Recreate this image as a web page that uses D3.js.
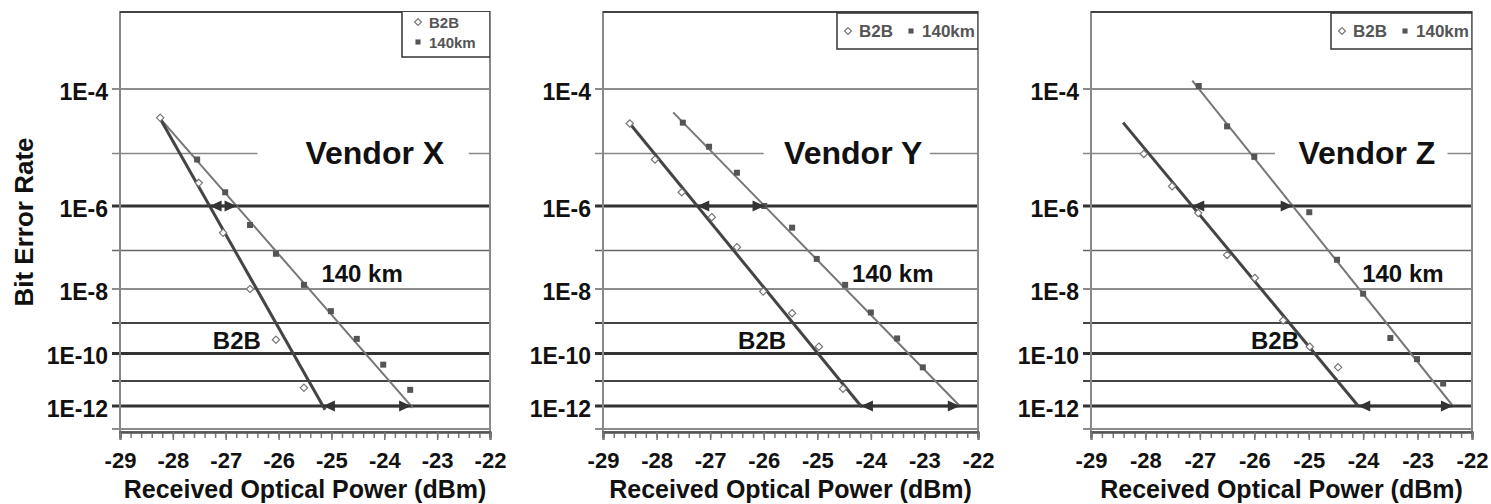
<!DOCTYPE html>
<html>
<head>
<meta charset="utf-8">
<script src="https://cdn.jsdelivr.net/npm/d3@7"></script>
<style>
    body { margin: 0; background: #fff; }
    svg text { font-family: "Liberation Sans", Arial, sans-serif; font-weight: bold; fill: #111; }
</style>
</head>
<body>
<div id="chart"></div>
<script>

// ---- values ----
const vendors = ["Vendor X", "Vendor Y", "Vendor Z"];
const xTicks = [-29, -28, -27, -26, -25, -24, -23, -22];
const berGrid = [1e-4, 1e-5, 1e-6, 1e-7, 1e-8, 1e-9, 1e-10, 1e-11, 1e-12, 1e-13];
const berLabels = ["1E-4", "1E-6", "1E-8", "1E-10", "1E-12"];
const berLabelValues = [1e-4, 1e-6, 1e-8, 1e-10, 1e-12];
const penaltyLevels = [1e-6, 1e-12];
const seriesNames = ["B2B", "140km"];

// Vendor X
const vxB2BPower = [-28.24, -27.51, -27.05, -26.54, -26.05, -25.52];
const vxB2BBer = [3.8e-5, 2.9e-6, 2.6e-7, 1.0e-8, 2.9e-10, 5.4e-12];
const vx140Power = [-27.54, -27.01, -26.54, -26.05, -25.52, -25.01, -24.52, -24.02, -23.51];
const vx140Ber = [7.8e-6, 1.9e-6, 3.9e-7, 8.3e-8, 1.3e-8, 2.3e-9, 3.1e-10, 4.0e-11, 4.5e-12];
const vxB2BFitPower = [-28.25, -25.12];
const vxB2BFitBer = [3.8e-5, 6.9e-13];
const vx140FitPower = [-28.25, -23.46];
const vx140FitBer = [3.8e-5, 8.3e-13];

// Vendor Y
const vyB2BPower = [-28.50, -28.03, -27.53, -26.97, -26.50, -26.01, -25.47, -24.97, -24.52];
const vyB2BBer = [3.1e-5, 7.8e-6, 1.9e-6, 5.8e-7, 1.2e-7, 8.5e-9, 2.0e-9, 1.7e-10, 5.0e-12];
const vy140Power = [-27.51, -27.02, -26.50, -25.99, -25.47, -25.01, -24.48, -24.00, -23.51, -23.03];
const vy140Ber = [3.2e-5, 1.3e-5, 4.5e-6, 1.0e-6, 3.4e-7, 6.2e-8, 1.3e-8, 2.1e-9, 3.2e-10, 3.2e-11];
const vyB2BFitPower = [-28.50, -24.17];
const vyB2BFitBer = [3.1e-5, 9.1e-13];
const vy140FitPower = [-27.69, -22.34];
const vy140FitBer = [4.6e-5, 1.0e-12];

// Vendor Z
const vzB2BPower = [-28.03, -27.51, -27.03, -26.50, -25.99, -25.47, -24.98, -24.46];
const vzB2BBer = [9.8e-6, 2.5e-6, 7.1e-7, 7.8e-8, 2.0e-8, 1.2e-9, 1.7e-10, 3.2e-11];
const vz140Power = [-27.02, -26.50, -26.00, -24.99, -24.48, -24.00, -23.50, -23.01, -22.53];
const vz140Ber = [1.1e-4, 2.8e-5, 8.7e-6, 7.4e-7, 5.9e-8, 7.4e-9, 3.3e-10, 6.3e-11, 7.9e-12];
const vzB2BFitPower = [-28.41, -24.09];
const vzB2BFitBer = [3.2e-5, 1.0e-12];
const vz140FitPower = [-27.14, -22.35];
const vz140FitBer = [1.3e-4, 1.0e-12];

// ---- layout ----
const panelLeft = [120, 603, 1091];
const panelRight = [490, 978, 1472];
const legendStacked = [true, false, false];
// annotation anchors in data units (dBm, BER)
const vendorLabelPower = [-24.18, -24.33, -23.93];
const vendorBgFrom = [-26.4, -26.0, -25.62];
const vendorBgTo = [-22.4, -22.9, -22.45];
const kmLabelPower = [-24.42, -23.59, -23.27];
const b2bLabelPower = [-26.79, -26.03, -25.62];

function zip(p, b) {
    return p.map((d, i) => ({power: d, ber: b[i]}));
}

const panels = [
    {b2b: zip(vxB2BPower, vxB2BBer), km: zip(vx140Power, vx140Ber),
        b2bFit: zip(vxB2BFitPower, vxB2BFitBer), kmFit: zip(vx140FitPower, vx140FitBer)},
    {b2b: zip(vyB2BPower, vyB2BBer), km: zip(vy140Power, vy140Ber),
        b2bFit: zip(vyB2BFitPower, vyB2BFitBer), kmFit: zip(vy140FitPower, vy140FitBer)},
    {b2b: zip(vzB2BPower, vzB2BBer), km: zip(vz140Power, vz140Ber),
        b2bFit: zip(vzB2BFitPower, vzB2BFitBer), kmFit: zip(vz140FitPower, vz140FitBer)}
];

// BER axis is linear in log10(-log10(BER))
const qt = b => Math.log10(-Math.log10(b));

const svg = d3.select("#chart").append("svg")
    .attr("width", 1491)
    .attr("height", 504);

// arrow head for the power penalty markers
svg.append("defs").append("marker")
    .attr("id", "arrow")
    .attr("viewBox", "0 -6 12 12")
    .attr("refX", 12)
    .attr("refY", 0)
    .attr("markerUnits", "userSpaceOnUse")
    .attr("markerWidth", 13)
    .attr("markerHeight", 12)
    .attr("orient", "auto-start-reverse")
    .append("path")
    .attr("d", "M0,-5.5L12,0L0,5.5Z")
    .attr("fill", "#333");

class BerVis {

    constructor(svg, idx) {
        this.svg = svg;
        this.idx = idx;
        this.data = panels[idx];
        this.initVis();
    }

    initVis() {
        let vis = this;
        let i = vis.idx;

        vis.top = 12;
        vis.bottom = 432;
        vis.left = panelLeft[i];
        vis.right = panelRight[i];

        vis.x = d3.scaleLinear().domain([-29, -22]).range([vis.left, vis.right]);
        vis.y = d3.scaleLinear().domain([qt(1e-4), qt(1e-12)]).range([89, 406]);
        vis.yb = b => vis.y(qt(b));

        vis.g = vis.svg.append("g").attr("class", "panel");

        vis.g.append("clipPath").attr("id", "clip" + i)
            .append("rect")
            .attr("x", vis.left).attr("y", vis.top)
            .attr("width", vis.right - vis.left).attr("height", vis.bottom - vis.top);

        // gridlines
        vis.g.selectAll(".grid")
            .data(berGrid)
            .enter().append("line")
            .attr("class", "grid")
            .attr("x1", vis.left - 8)
            .attr("x2", vis.right)
            .attr("y1", d => vis.yb(d))
            .attr("y2", d => vis.yb(d))
            .attr("stroke", d => vis.gridStyle(d).c)
            .attr("stroke-width", d => vis.gridStyle(d).w);

        // y labels
        vis.g.selectAll(".ylab")
            .data(berLabelValues)
            .enter().append("text")
            .attr("class", "ylab")
            .attr("x", vis.left - 12)
            .attr("y", d => vis.yb(d) + 3)
            .attr("text-anchor", "end")
            .attr("dominant-baseline", "central")
            .style("font-size", "23px")
            .text((d, k) => berLabels[k]);

        // plot frame
        vis.g.append("rect")
            .attr("x", vis.left).attr("y", vis.top)
            .attr("width", vis.right - vis.left).attr("height", vis.bottom - vis.top)
            .attr("fill", "none")
            .attr("stroke", "#888")
            .attr("stroke-width", 2);
        vis.g.append("line")
            .attr("x1", vis.left).attr("x2", vis.right)
            .attr("y1", vis.top).attr("y2", vis.top)
            .attr("stroke", "#444").attr("stroke-width", 2);

        // x axis
        vis.xAxisMinor = d3.axisBottom(vis.x)
            .tickValues(d3.range(-29, -21.99, 0.2))
            .tickSize(6)
            .tickFormat("");
        vis.xAxis = d3.axisBottom(vis.x)
            .tickValues(xTicks)
            .tickSize(8)
            .tickPadding(12)
            .tickFormat(d => String(d));

        let ax1 = vis.g.append("g")
            .attr("transform", `translate(0,${vis.bottom})`)
            .call(vis.xAxisMinor);
        let ax2 = vis.g.append("g")
            .attr("transform", `translate(0,${vis.bottom})`)
            .call(vis.xAxis);
        [ax1, ax2].forEach(a => {
            a.select(".domain").attr("stroke", "#555").attr("stroke-width", 2);
            a.selectAll(".tick line").attr("stroke", "#777").attr("stroke-width", 1.5);
        });
        ax2.selectAll(".tick text")
            .attr("fill", "#111")
            .style("font-size", "22px")
            .style("font-family", "'Liberation Sans', Arial, sans-serif")
            .style("font-weight", "bold");

        vis.g.append("text")
            .attr("x", (vis.left + vis.right) / 2)
            .attr("y", 498)
            .attr("text-anchor", "middle")
            .style("font-size", "25px")
            .text("Received Optical Power (dBm)");

        vis.drawData();
        vis.drawLabels();
        vis.drawLegend();
    }

    gridStyle(b) {
        let e = Math.round(-Math.log10(b));
        if ([6, 10, 12].includes(e)) return {w: 3, c: "#333"};
        if ([9, 11].includes(e)) return {w: 2, c: "#444"};
        if (e === 5) return {w: 1.5, c: "#888"};
        return {w: 1.5, c: "#666"};
    }

    drawData() {
        let vis = this;
        let line = d3.line().x(d => vis.x(d.power)).y(d => vis.yb(d.ber));

        let layer = vis.g.append("g").attr("clip-path", `url(#clip${vis.idx})`);

        layer.append("path")
            .datum(vis.data.kmFit)
            .attr("d", line)
            .attr("fill", "none")
            .attr("stroke", "#777")
            .attr("stroke-width", 2);

        layer.append("path")
            .datum(vis.data.b2bFit)
            .attr("d", line)
            .attr("fill", "none")
            .attr("stroke", "#444")
            .attr("stroke-width", 3);

        layer.selectAll(".b2b")
            .data(vis.data.b2b)
            .enter().append("path")
            .attr("class", "b2b")
            .attr("transform", d => `translate(${vis.x(d.power)},${vis.yb(d.ber)})`)
            .attr("d", d3.symbol(d3.symbolDiamond2, 34))
            .attr("fill", "#fff")
            .attr("stroke", "#777")
            .attr("stroke-width", 1.2);

        layer.selectAll(".km")
            .data(vis.data.km)
            .enter().append("path")
            .attr("class", "km")
            .attr("transform", d => `translate(${vis.x(d.power)},${vis.yb(d.ber)})`)
            .attr("d", d3.symbol(d3.symbolSquare, 36))
            .attr("fill", "#555");

        // power penalty arrows between fits
        let xAt = (fit, b) => {
            let t0 = qt(fit[0].ber), t1 = qt(fit[1].ber);
            return fit[0].power + (qt(b) - t0) / (t1 - t0) * (fit[1].power - fit[0].power);
        };

        layer.selectAll(".penalty")
            .data(penaltyLevels)
            .enter().append("line")
            .attr("class", "penalty")
            .attr("x1", d => vis.x(xAt(vis.data.b2bFit, d)))
            .attr("x2", d => vis.x(xAt(vis.data.kmFit, d)))
            .attr("y1", d => vis.yb(d))
            .attr("y2", d => vis.yb(d))
            .attr("stroke", "#333")
            .attr("stroke-width", 2.5)
            .attr("marker-start", "url(#arrow)")
            .attr("marker-end", "url(#arrow)");
    }

    drawLabels() {
        let vis = this;
        let i = vis.idx;

        let yv = vis.yb(1e-5);
        vis.g.append("rect")
            .attr("x", vis.x(vendorBgFrom[i]))
            .attr("y", yv - 16)
            .attr("width", vis.x(vendorBgTo[i]) - vis.x(vendorBgFrom[i]))
            .attr("height", 32)
            .attr("fill", "#fff");
        vis.g.append("text")
            .attr("x", vis.x(vendorLabelPower[i]))
            .attr("y", yv)
            .attr("text-anchor", "middle")
            .attr("dominant-baseline", "central")
            .style("font-size", "32px")
            .text(vendors[i]);

        vis.g.append("text")
            .attr("x", vis.x(kmLabelPower[i]))
            .attr("y", vis.yb(10 ** -7.57))
            .attr("text-anchor", "middle")
            .attr("dominant-baseline", "central")
            .style("font-size", "24px")
            .text("140 km");

        vis.g.append("text")
            .attr("x", vis.x(b2bLabelPower[i]))
            .attr("y", vis.yb(10 ** -9.57))
            .attr("text-anchor", "middle")
            .attr("dominant-baseline", "central")
            .style("font-size", "24px")
            .text("B2B");
    }

    drawLegend() {
        let vis = this;
        let lg = vis.g.append("g").attr("clip-path", `url(#clip${vis.idx})`);
        let stacked = legendStacked[vis.idx];

        let box = stacked
            ? {x: vis.right - 88, y: 9, w: 88, h: 48}
            : {x: vis.right - 141, y: 13, w: 141, h: 36};

        lg.append("rect")
            .attr("x", box.x).attr("y", box.y)
            .attr("width", box.w).attr("height", box.h)
            .attr("fill", "#fff")
            .attr("stroke", "#333")
            .attr("stroke-width", 1.5);

        let items = seriesNames.map((name, k) => {
            let pos = stacked
                ? {mx: box.x + 16, my: box.y + 13 + k * 20}
                : {mx: box.x + 11 + k * 63, my: box.y + 18};
            return {name: name, k: k, mx: pos.mx, my: pos.my};
        });

        lg.selectAll(".lsym")
            .data(items)
            .enter().append("path")
            .attr("transform", d => `translate(${d.mx},${d.my})`)
            .attr("d", d => d.k === 0 ? d3.symbol(d3.symbolDiamond2, 30)() : d3.symbol(d3.symbolSquare, 26)())
            .attr("fill", d => d.k === 0 ? "#fff" : "#555")
            .attr("stroke", d => d.k === 0 ? "#777" : "none")
            .attr("stroke-width", 1.2);

        lg.selectAll(".ltxt")
            .data(items)
            .enter().append("text")
            .attr("x", d => d.mx + 11)
            .attr("y", d => d.my)
            .attr("dominant-baseline", "central")
            .style("font-size", stacked ? "15px" : "17px")
            .style("fill", "#555")
            .text(d => d.name);
    }
}

panels.forEach((p, i) => new BerVis(svg, i));

// shared y title
svg.append("text")
    .attr("transform", "translate(24,222) rotate(-90)")
    .attr("text-anchor", "middle")
    .attr("dominant-baseline", "central")
    .style("font-size", "26px")
    .text("Bit Error Rate");

</script>
</body>
</html>
